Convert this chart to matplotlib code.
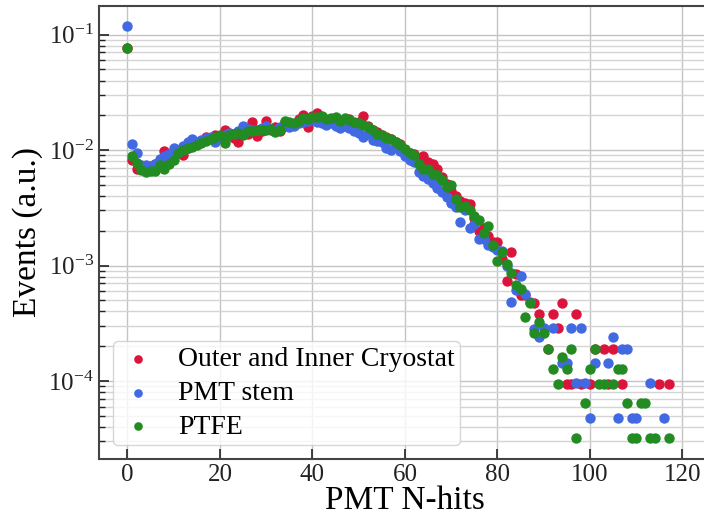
import matplotlib
matplotlib.use("Agg")
import matplotlib.pyplot as plt
import numpy as np

plt.rcParams['font.family'] = ['Liberation Serif', 'DejaVu Serif']
plt.rcParams['mathtext.fontset'] = 'stix'

# Outer and Inner Cryostat
cryo_x = list(range(0, 87)) + [88, 89, 91, 92, 93, 94, 95, 96, 97, 98, 100,
                               101, 103, 104, 105, 107, 115, 117]
cryo_y = [0.077, 0.0082, 0.0069, 0.0068, 0.0071, 0.0073, 0.0075, 0.0080, 0.0098, 0.0088,
          0.0090, 0.0098, 0.0091, 0.0105, 0.0113, 0.0112, 0.0120, 0.0130, 0.0128, 0.0136,
          0.0132, 0.0149, 0.0140, 0.0128, 0.0118, 0.0150, 0.0138, 0.0176, 0.0132, 0.0145,
          0.0178, 0.0150, 0.0157, 0.0145, 0.0175, 0.0170, 0.0168, 0.0185, 0.0200, 0.0159,
          0.0196, 0.0209, 0.0180, 0.0176, 0.0185, 0.0175, 0.0180, 0.0182, 0.0185, 0.0170,
          0.0175, 0.0197, 0.0160, 0.0150, 0.0142, 0.0135, 0.0130, 0.0125, 0.0118, 0.0112,
          0.0100, 0.0095, 0.0092, 0.0086, 0.0089, 0.0079, 0.0076, 0.0068, 0.0059, 0.0051,
          0.0044, 0.0040, 0.0036, 0.0035, 0.0034, 0.0026, 0.0020, 0.0021, 0.0018, 0.0016,
          0.0016, 0.00115, 0.00074, 0.0013, 0.00085, 0.00056, 0.00056,
          4.7e-4, 3.8e-4, 1.9e-4, 3.8e-4, 2.85e-4, 4.7e-4, 9.5e-5, 9.5e-5, 3.8e-4, 9.5e-5,
          9.5e-5, 1.9e-4, 1.9e-4, 9.5e-5, 1.9e-4, 9.5e-5, 9.5e-5, 9.5e-5]

# PMT stem
stem_x = list(range(0, 88)) + [88, 89, 90, 92, 94, 95, 96, 97, 98, 99, 100, 101,
                               104, 105, 106, 107, 108, 109, 110, 113, 116]
stem_y = [0.119, 0.0113, 0.0095, 0.0074, 0.0074, 0.0072, 0.0076, 0.0083, 0.0088, 0.0092,
          0.0105, 0.0100, 0.0108, 0.0118, 0.0124, 0.0118, 0.0122, 0.0128, 0.0130, 0.0118,
          0.0128, 0.0135, 0.0140, 0.0138, 0.0145, 0.0160, 0.0152, 0.0148, 0.0150, 0.0155,
          0.0160, 0.0152, 0.0150, 0.0158, 0.0162, 0.0157, 0.0160, 0.0170, 0.0175, 0.0180,
          0.0185, 0.0175, 0.0172, 0.0164, 0.0170, 0.0160, 0.0155, 0.0160, 0.0155, 0.0145,
          0.0140, 0.0130, 0.0138, 0.0122, 0.0120, 0.0117, 0.0105, 0.0100, 0.0108, 0.0098,
          0.0088, 0.0082, 0.0079, 0.0065, 0.0060, 0.0056, 0.0052, 0.0047, 0.0043, 0.0039,
          0.0035, 0.0032, 0.0024, 0.0030, 0.0021, 0.0023, 0.0017, 0.0017, 0.0015, 0.00146,
          0.00136, 0.00134, 0.00100, 0.00048, 0.00061, 0.00081, 0.00057, 0.00048,
          2.8e-4, 2.4e-4, 2.85e-4, 2.85e-4, 1.44e-4, 1.44e-4, 2.85e-4, 9.6e-5, 2.85e-4, 9.6e-5,
          4.8e-5, 1.44e-4, 1.44e-4, 2.4e-4, 4.8e-5, 1.9e-4, 1.9e-4, 4.8e-5, 4.8e-5, 9.6e-5,
          4.8e-5]

# PTFE
ptfe_x = list(range(0, 98)) + [99, 100, 101, 102, 103, 105, 106, 107, 108, 109, 110,
                               111, 112, 113, 114, 117]
ptfe_y = [0.076, 0.0088, 0.0078, 0.0067, 0.0065, 0.0066, 0.0066, 0.0074, 0.0068, 0.0075,
          0.0082, 0.0095, 0.0100, 0.0105, 0.0107, 0.0110, 0.0114, 0.0120, 0.0125, 0.0130,
          0.0135, 0.0114, 0.0135, 0.0138, 0.0140, 0.0135, 0.0145, 0.0147, 0.0150, 0.0148,
          0.0150, 0.0152, 0.0144, 0.0150, 0.0179, 0.0175, 0.0170, 0.0180, 0.0188, 0.0185,
          0.0194, 0.0194, 0.0198, 0.0185, 0.0190, 0.0194, 0.0180, 0.0189, 0.0182, 0.0176,
          0.0172, 0.0165, 0.0159, 0.0149, 0.0138, 0.0135, 0.0126, 0.0124, 0.0118, 0.0110,
          0.0103, 0.0094, 0.0090, 0.0076, 0.0068, 0.0068, 0.0062, 0.0061, 0.0055, 0.0048,
          0.0050, 0.0038, 0.0032, 0.0033, 0.0030, 0.0027, 0.0025, 0.0019, 0.0022, 0.0015,
          0.0011, 0.0013, 0.00103, 0.00086, 0.00068, 0.00063, 0.00036, 0.00047, 0.00026, 0.000325,
          0.00026, 1.9e-4, 1.27e-4, 9.5e-5, 1.6e-4, 1.27e-4, 1.9e-4, 3.2e-5,
          6.4e-5, 1.27e-4, 1.9e-4, 9.5e-5, 9.5e-5, 9.5e-5, 1.27e-4, 1.27e-4, 6.4e-5, 3.2e-5,
          3.2e-5, 6.4e-5, 6.4e-5, 3.2e-5, 3.2e-5, 3.2e-5]

fig = plt.figure(figsize=(7.04, 5.15), dpi=100)
ax = fig.add_axes([0.1403, 0.1087, 0.8685, 0.880])

ax.scatter(cryo_x, cryo_y, s=42, color='crimson', label='Outer and Inner Cryostat', zorder=3)
ax.scatter(stem_x, stem_y, s=42, color='royalblue', label='PMT stem', zorder=3)
ax.scatter(ptfe_x, ptfe_y, s=42, color='forestgreen', label='PTFE', zorder=3)

ax.set_yscale('log')
ax.set_xlim(-6.2, 126)
ax.set_ylim(2.11e-5, 0.1775)

ax.grid(True, which='major', color='#c4c4c4', lw=1)
ax.grid(True, which='minor', axis='y', color='#d4d4d4', lw=1)
ax.set_axisbelow(True)

ax.tick_params(which='both', direction='in', labelsize=18, colors='#222222')
ax.tick_params(which='major', length=7, width=1.2)
ax.tick_params(which='minor', length=4, width=1)
for s in ax.spines.values():
    s.set_color('#444444')
    s.set_linewidth(1.5)

ax.set_xlabel('PMT N-hits', fontsize=24, labelpad=0)
ax.set_ylabel('Events (a.u.)', fontsize=24, labelpad=4)

ax.legend(loc='lower left', fontsize=20, markerscale=0.8, handlelength=1.4,
          handletextpad=0.75, borderpad=0.2, labelspacing=0.3)

fig.savefig('out.png', dpi=100)
